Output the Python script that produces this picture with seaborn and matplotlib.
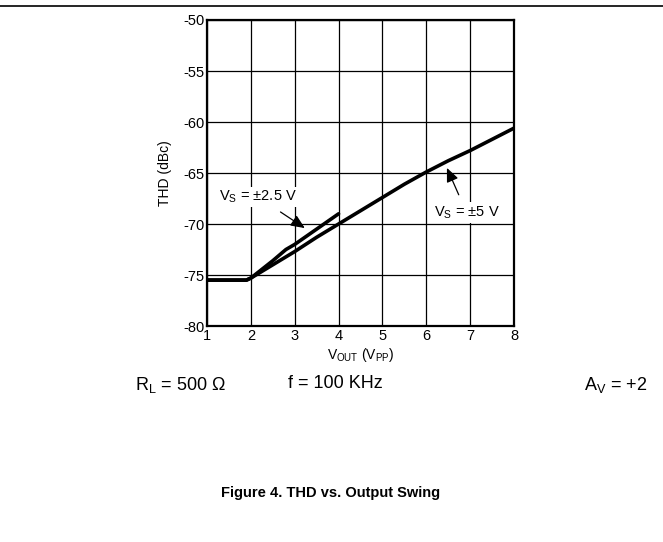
import matplotlib
matplotlib.use("Agg")
import matplotlib.pyplot as plt
import seaborn as sns
import pandas as pd

# THD vs output swing
vout_5v = [1.0, 1.5, 1.9, 2.0, 2.5, 3.0, 3.5, 4.0, 4.5, 5.0, 5.5, 6.0, 6.5, 7.0, 7.5, 8.0]
thd_5v = [-75.5, -75.5, -75.5, -75.3, -74.0, -72.7, -71.3, -70.0, -68.7, -67.4, -66.1, -64.9, -63.8, -62.8, -61.7, -60.6]

vout_25v = [1.0, 1.5, 1.9, 2.0, 2.5, 2.8, 3.0, 3.5, 4.0]
thd_25v = [-75.5, -75.5, -75.5, -75.3, -73.6, -72.5, -72.0, -70.5, -69.0]

x_ticks = [1, 2, 3, 4, 5, 6, 7, 8]
y_ticks = [-80, -75, -70, -65, -60, -55, -50]

df = pd.concat([
    pd.DataFrame({"vout": vout_5v, "thd": thd_5v, "supply": "5"}),
    pd.DataFrame({"vout": vout_25v, "thd": thd_25v, "supply": "2.5"}),
])

sns.set_style("white")
plt.rcParams["font.family"] = ["Liberation Sans", "DejaVu Sans"]
plt.rcParams["mathtext.fontset"] = "custom"
plt.rcParams["mathtext.rm"] = "Liberation Sans"
plt.rcParams["mathtext.it"] = "Liberation Sans"
plt.rcParams["axes.unicode_minus"] = False
for k in ["text.color", "axes.labelcolor", "xtick.color", "ytick.color"]:
    plt.rcParams[k] = "black"

fig = plt.figure(figsize=(6.63, 5.42), dpi=100)
ax = fig.add_axes([0.3122, 0.3985, 0.4631, 0.5646])

sns.lineplot(data=df, x="vout", y="thd", units="supply", estimator=None,
             color="black", linewidth=2.6, legend=False, ax=ax, sort=False)

ax.set_xlim(1, 8)
ax.set_ylim(-80, -50)
ax.set_xticks(x_ticks)
ax.set_yticks(y_ticks)
ax.grid(True, color="black", linewidth=0.9)
ax.tick_params(length=0, labelsize=10.5, pad=2)
for s in ax.spines.values():
    s.set_color("black")
    s.set_linewidth(1.6)

ax.set_xlabel(r"V$_{\rm OUT}$ (V$_{\rm PP}$)", fontsize=10, labelpad=2)
ax.set_ylabel("THD (dBc)", fontsize=10, labelpad=8)

# curve labels with arrows
ax.annotate(r"V$_{\rm S}$ = ±2.5 V", xy=(3.23, -70.4), xytext=(2.16, -67.35),
            ha="center", va="center", fontsize=10.5,
            bbox=dict(boxstyle="square,pad=0.15", fc="white", ec="none"),
            arrowprops=dict(arrowstyle="-|>,head_length=0.8,head_width=0.35",
                            color="black", lw=0.9, shrinkA=6, shrinkB=0))
ax.annotate(r"V$_{\rm S}$ = ±5 V", xy=(6.47, -64.5), xytext=(6.92, -68.9),
            ha="center", va="center", fontsize=10.5,
            bbox=dict(boxstyle="square,pad=0.15", fc="white", ec="none"),
            arrowprops=dict(arrowstyle="-|>,head_length=0.8,head_width=0.35",
                            color="black", lw=0.9, shrinkA=6, shrinkB=0))

# test conditions and caption
fig.text(180 / 663, 1 - 385 / 542, r"R$_{\rm L}$ = 500 Ω", ha="center", va="center", fontsize=13)
fig.text(335 / 663, 1 - 384 / 542, "f = 100 KHz", ha="center", va="center", fontsize=13)
fig.text(616 / 663, 1 - 385 / 542, r"A$_{\rm V}$ = +2", ha="center", va="center", fontsize=13)
fig.text(331 / 663, 1 - 493 / 542, "Figure 4. THD vs. Output Swing", ha="center", va="center",
         fontsize=10.5, fontweight="bold")

fig.add_artist(plt.Line2D([0, 1], [1 - 6 / 542, 1 - 6 / 542], color="black", lw=1.2,
                          transform=fig.transFigure))

fig.savefig("out.png", dpi=100)
